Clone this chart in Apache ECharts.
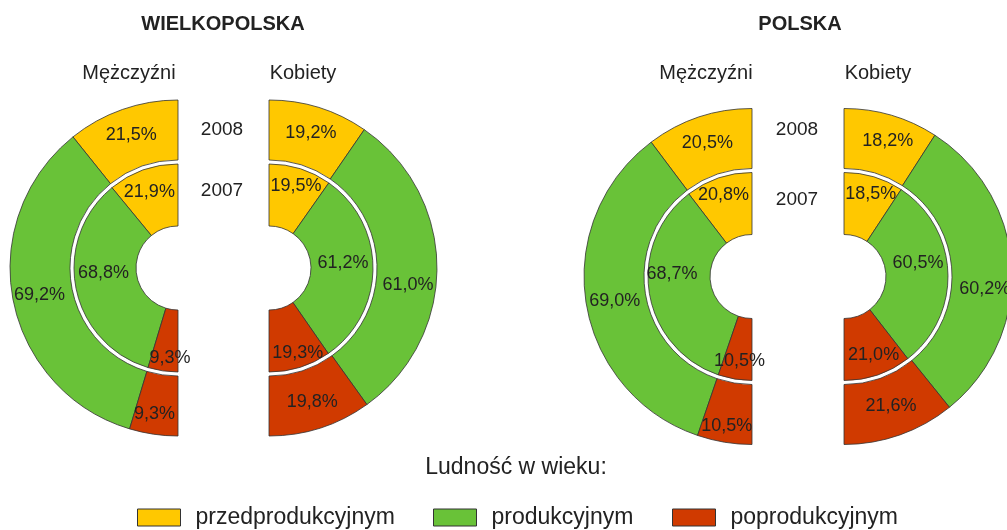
<!DOCTYPE html>
<html>
<head>
<meta charset="utf-8">
<script src="https://cdn.jsdelivr.net/npm/echarts@6/dist/echarts.min.js"></script>
<style>
html,body{margin:0;padding:0;background:#fff;}
#chart{width:1007px;height:530px;}
</style>
</head>
<body>
<div id="chart"></div>
<script>
// ---- data ----
const categories = ['przedprodukcyjnym', 'produkcyjnym', 'poprodukcyjnym'];
const regionTitles = ['WIELKOPOLSKA', 'POLSKA'];
const sexLabels = ['Mężczyźni', 'Kobiety'];
const yearLabels = ['2008', '2007'];
const legendTitle = 'Ludność w wieku:';

const wlkpMen2008 = [21.5, 69.2, 9.3];
const wlkpMen2007 = [21.9, 68.8, 9.3];
const wlkpWomen2008 = [19.2, 61.0, 19.8];
const wlkpWomen2007 = [19.5, 61.2, 19.3];
const plMen2008 = [20.5, 69.0, 10.5];
const plMen2007 = [20.8, 68.7, 10.5];
const plWomen2008 = [18.2, 60.2, 21.6];
const plWomen2007 = [18.5, 60.5, 21.0];

// ---- style ----
const colors = ['#FFC800', '#69C238', '#D03A00'];
const FONT = '"Liberation Sans", Arial, Helvetica, sans-serif';
const TXT = '#222';
const OUTER = [108, 168];
const INNER = [42, 104];

function fmt(v) { return v.toFixed(1).replace('.', ',') + '%'; }

function ring(center, radius, values, clockwise, nudge) {
  const total = values.reduce((a, b) => a + b, 0);
  const data = categories.map((c, i) => ({
    name: c, value: values[i], itemStyle: { color: colors[i] }
  }));
  data.push({
    name: 'gap', value: total,
    itemStyle: { color: 'rgba(0,0,0,0)', borderWidth: 0 },
    label: { show: false }, emphasis: { disabled: true }
  });
  return {
    type: 'pie',
    center: center,
    radius: radius,
    startAngle: 90,
    clockwise: clockwise,
    avoidLabelOverlap: false,
    animation: false,
    silent: true,
    itemStyle: { borderColor: '#333', borderWidth: 0.8 },
    label: {
      show: true, position: 'inside', color: TXT,
      fontFamily: FONT, fontSize: 18,
      formatter: p => fmt(p.value)
    },
    labelLine: { show: false },
    labelLayout: function (p) {
      const n = nudge[p.dataIndex] || [0, 0];
      return { dx: n[0], dy: n[1] };
    },
    data: data
  };
}

const wC = [[178, 268], [269, 268]];
const pC = [[752, 276.5], [844, 276.5]];

const series = [
  ring(wC[0], OUTER, wlkpMen2008, false, [[0, 0], [0, 0], [-3, 7]]),
  ring(wC[0], INNER, wlkpMen2007, false, [[-3, -4], [0, -10], [3, 15]]),
  ring(wC[1], OUTER, wlkpWomen2008, true, [[0, 0], [-2, 18], [0, 0]]),
  ring(wC[1], INNER, wlkpWomen2007, true, [[4, -10], [-2, -5], [6, 12]]),
  ring(pC[0], OUTER, plMen2008, false, [[0, 0], [2, 2], [-2, 10]]),
  ring(pC[0], INNER, plMen2007, false, [[-4, -9], [-5, -15], [0, 10]]),
  ring(pC[1], OUTER, plWomen2008, true, [[4, 0], [0, 20], [0, -3]]),
  ring(pC[1], INNER, plWomen2007, true, [[5, -10], [-2, -10], [5, 7]])
];

function txt(text, x, y, size, bold) {
  return {
    type: 'text', x: x, y: y, silent: true,
    style: {
      text: text, fill: TXT, font: (bold ? 'bold ' : '') + size + 'px ' + FONT,
      textAlign: 'center', textVerticalAlign: 'middle'
    }
  };
}

const graphic = [
  txt(regionTitles[0], 223, 24, 20, true),
  txt(regionTitles[1], 800, 24, 20, true),
  txt(sexLabels[0], 129, 73, 20),
  txt(sexLabels[1], 303, 73, 20),
  txt(sexLabels[0], 706, 73, 20),
  txt(sexLabels[1], 878, 73, 20),
  txt(yearLabels[0], 222, 130, 19),
  txt(yearLabels[1], 222, 191, 19),
  txt(yearLabels[0], 797, 130, 19),
  txt(yearLabels[1], 797, 200, 19),
  txt(legendTitle, 516, 468, 23)
];

const legendLefts = [137, 433, 672];
const legend = categories.map((c, i) => ({
  data: [c],
  left: legendLefts[i],
  top: 506,
  padding: 0,
  icon: 'rect',
  itemWidth: 43,
  itemHeight: 17,
  selectedMode: false,
  itemStyle: { borderColor: '#333', borderWidth: 1 },
  textStyle: { color: TXT, fontFamily: FONT, fontSize: 23, padding: [0, 0, 0, 10] }
}));

const chart = echarts.init(document.getElementById('chart'), null, { renderer: 'canvas' });
chart.setOption({
  backgroundColor: '#fff',
  animation: false,
  legend: legend,
  graphic: graphic,
  series: series
});
</script>
</body>
</html>
